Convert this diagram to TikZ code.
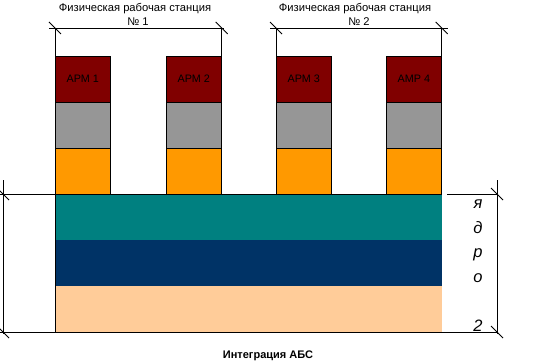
\documentclass[tikz,border=0pt]{standalone}
\usepackage{fontspec}
\setmainfont{Liberation Sans}
\usetikzlibrary{positioning}
\definecolor{armred}{HTML}{800000}
\definecolor{osgrey}{HTML}{969696}
\definecolor{hworange}{HTML}{FF9900}
\definecolor{netteal}{HTML}{008080}
\definecolor{dbnavy}{HTML}{003366}
\definecolor{absbeige}{HTML}{FFCC99}
\newcommand{\dimtick}[1]{\draw #1 +(-6,-6) -- +(6,6);}

\begin{document}
\begin{tikzpicture}[x=1pt,y=-1pt,line width=0.8pt,
		every node/.style={inner sep=0pt,outer sep=0pt},
		cell/.style={draw=black,minimum width=55.7pt,minimum height=46pt,font=\fontsize{10.8}{12}\selectfont},
		layer/.style={minimum width=386.7pt,minimum height=46pt},
		caption/.style={font=\fontsize{11.2}{13}\selectfont,anchor=base}]
		\useasboundingbox (0,0) rectangle (552,361);
		% Draw workstations.
		\foreach \i/\x/\t in {1/55/АРМ 1,2/166/АРМ 2,3/276/АРМ 3,4/386/АМР 4}{
			\node[cell,fill=armred,anchor=north west] (arm\i) at (\x,56) {\t};
			\node[cell,fill=osgrey,below=0pt of arm\i] (os\i) {};
			\node[cell,fill=hworange,below=0pt of os\i] (hw\i) {};
		}
		% Draw core layers.
		\node[layer,fill=netteal,anchor=north west] (net) at (55,194) {};
		\node[layer,fill=dbnavy,below=0pt of net] (db) {};
		\node[layer,fill=absbeige,below=0pt of db] (abs) {};
		\draw (0,194) -- (net.north east);
		\draw (net.north west) -- (abs.south west);
		\draw (0,332) -- (497,332);
		\draw (447,194) -- (497,194);
		
		% Dimension lines.
		\coordinate (d1) at (arm1.north west |- 0,28);
		\coordinate (d2) at (arm2.north east |- 0,28);
		\coordinate (d3) at (arm3.north west |- 0,28);
		\coordinate (d4) at (arm4.north east |- 0,28);
		\draw (49,28) -- (224,28);
		\draw (270,28) -- (448,28);
		\draw (d1) -- (arm1.north west);
		\draw (d2) -- (arm2.north east);
		\draw (d3) -- (arm3.north west);
		\draw (d4) -- (arm4.north east);
		\coordinate (l1) at (3,194);
		\coordinate (l2) at (3,332);
		\coordinate (r1) at (497,194);
		\coordinate (r2) at (497,332);
		\draw (3,180) -- (3,334);
		\draw (497,180) -- (497,334);
		\dimtick{(d1)} \dimtick{(d2)} \dimtick{(d3)} \dimtick{(d4)}
		\dimtick{(l1)} \dimtick{(l2)} \dimtick{(r1)} \dimtick{(r2)}
		
		% Labels.
		\node[caption] (st1) at (135,12) {Физическая рабочая станция};
		\node[caption] (no1) at (138,26) {№ 1};
		\node[caption] (st2) at (355,12) {Физическая рабочая станция};
		\node[caption] (no2) at (359,26) {№ 2};
		\node[caption,font=\fontsize{11}{13}\selectfont\bfseries] (integ) at (268,358.3) {Интеграция АБС};
		\foreach \l/\k in {я/0,д/1,р/2,о/3,2/5}
			\node[anchor=base,font=\fontsize{16.5}{20}\selectfont\itshape] (core\k) at (478,{208.3+24.7*\k}) {\l};
	\end{tikzpicture}
\end{document}
